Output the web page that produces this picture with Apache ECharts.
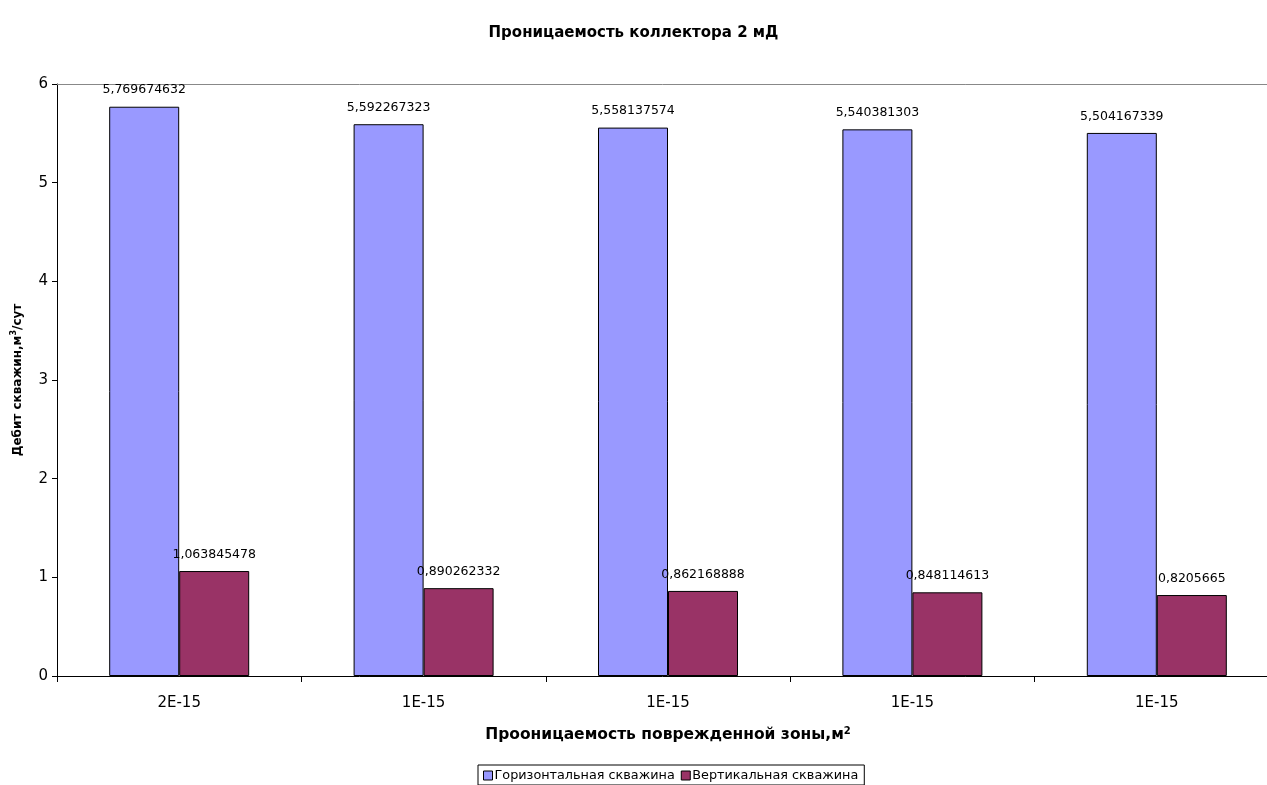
<!DOCTYPE html>
<html>
<head>
<meta charset="utf-8">
<script src="https://cdn.jsdelivr.net/npm/echarts@6/dist/echarts.min.js"></script>
<style>
  html, body { margin: 0; padding: 0; background: #ffffff; }
  #chart { width: 1267px; height: 785px; }
</style>
</head>
<body>
<div id="chart"></div>
<script>
// Permeability of the damaged zone, m²
const categories = ['2E-15', '1E-15', '1E-15', '1E-15', '1E-15'];
// Well flow rate, m³/day
const horizontalWell = [5.769674632, 5.592267323, 5.558137574, 5.540381303, 5.504167339];
const verticalWell = [1.063845478, 0.890262332, 0.862168888, 0.848114613, 0.8205665];
const yTicks = [0, 1, 2, 3, 4, 5, 6];

const font = '"DejaVu Sans", Verdana, sans-serif';
const commaLabel = p => String(p.value).replace('.', ',');
const sup = size => ({ fontFamily: font, fontSize: size, fontWeight: 'bold', color: '#000', verticalAlign: 'top', padding: [0, 0, 7, 0] });

const chart = echarts.init(document.getElementById('chart'), null, { renderer: 'canvas' });

chart.setOption({
  animation: false,
  backgroundColor: '#ffffff',
  title: {
    text: 'Проницаемость коллектора 2 мД',
    left: 'center',
    top: 21,
    textStyle: { fontFamily: font, fontSize: 15, fontWeight: 'bold', color: '#000' }
  },
  legend: {
    bottom: 0,
    left: 478,
    itemWidth: 9,
    itemHeight: 9,
    itemGap: 6,
    padding: [4, 6, 3, 5],
    borderColor: '#000',
    borderWidth: 1,
    borderRadius: 0,
    icon: 'rect',
    textStyle: { fontFamily: font, fontSize: 12.8, color: '#000', padding: [0, 0, 0, -3] },
    itemStyle: { borderColor: '#000', borderWidth: 1 },
    data: ['Горизонтальная скважина', 'Вертикальная скважина']
  },
  grid: { left: 57, right: -12, top: 84, bottom: 109, containLabel: false, outerBoundsMode: 'none' },
  xAxis: [{
    type: 'category',
    data: categories,
    name: 'Прооницаемость поврежденной зоны,м{sup|2}',
    nameLocation: 'middle',
    nameGap: 50,
    nameTextStyle: {
      fontFamily: font, fontSize: 15.5, fontWeight: 'bold', color: '#000',
      rich: { sup: sup(10) }
    },
    axisLine: { lineStyle: { color: '#000', width: 1 } },
    axisTick: { show: true, length: 6, lineStyle: { color: '#000' } },
    axisLabel: { fontFamily: font, fontSize: 15, color: '#000', margin: 20 },
    splitLine: { show: false }
  }, {
    type: 'category',
    data: categories,
    position: 'top',
    axisLine: { show: true, lineStyle: { color: '#888', width: 1 } },
    axisTick: { show: false },
    axisLabel: { show: false }
  }],
  yAxis: {
    type: 'value',
    min: yTicks[0],
    max: yTicks[yTicks.length - 1],
    interval: 1,
    name: 'Дебит скважин,м{sup|3}/сут',
    nameLocation: 'middle',
    nameGap: 32,
    nameTextStyle: {
      fontFamily: font, fontSize: 12, fontWeight: 'bold', color: '#000',
      rich: { sup: sup(8) }
    },
    axisLine: { show: true, lineStyle: { color: '#000', width: 1 } },
    axisTick: { show: true, length: 5, lineStyle: { color: '#000' } },
    axisLabel: { fontFamily: font, fontSize: 15, color: '#000', margin: 9 },
    splitLine: { show: false }
  },
  series: [{
    name: 'Горизонтальная скважина',
    type: 'bar',
    data: horizontalWell,
    barWidth: 70,
    barGap: '0%',
    itemStyle: { color: '#9999ff', borderColor: '#000', borderWidth: 1 },
    label: { show: true, position: 'top', distance: 10, formatter: commaLabel, fontFamily: font, fontSize: 12.5, color: '#000' }
  }, {
    name: 'Вертикальная скважина',
    type: 'bar',
    data: verticalWell,
    barWidth: 70,
    barGap: '0%',
    itemStyle: { color: '#993366', borderColor: '#000', borderWidth: 1 },
    label: { show: true, position: 'top', distance: 10, formatter: commaLabel, fontFamily: font, fontSize: 12.5, color: '#000' }
  }]
});
</script>
</body>
</html>
